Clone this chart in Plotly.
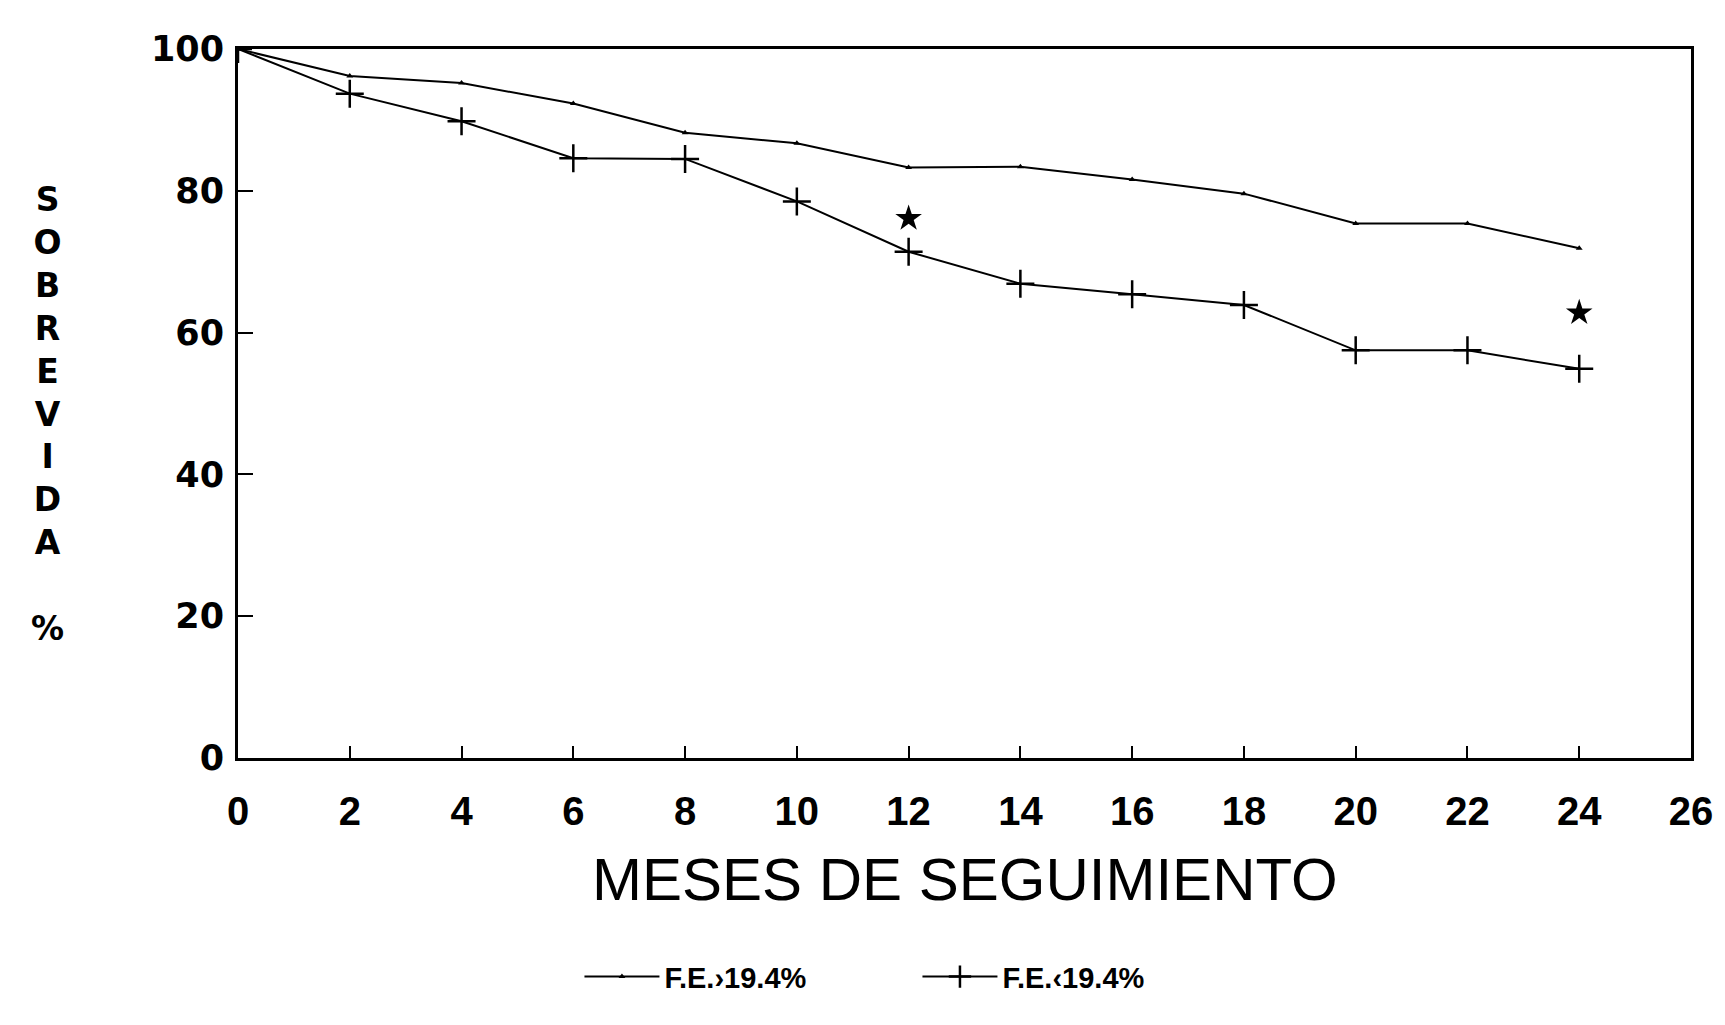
import plotly.graph_objects as go

months = [0, 2, 4, 6, 8, 10, 12, 14, 16, 18, 20, 22, 24]
fe_high = [100, 96.2, 95.2, 92.3, 88.2, 86.7, 83.3, 83.4, 81.6, 79.6, 75.4, 75.4, 71.9]
fe_low = [100, 93.7, 89.8, 84.6, 84.5, 78.5, 71.4, 66.9, 65.4, 63.9, 57.5, 57.5, 54.9]
star_months = [12, 24]
star_values = [76.1, 62.8]

x_ticks = list(range(0, 27, 2))
y_ticks = [0, 20, 40, 60, 80, 100]
name_high = "F.E.›19.4%"
name_low = "F.E.‹19.4%"
y_title_letters = ["S", "O", "B", "R", "E", "V", "I", "D", "A", "", "%"]

fig = go.Figure()
fig.add_trace(go.Scatter(
    x=months, y=fe_high, name=name_high, mode="lines+markers",
    line=dict(color="black", width=2),
    marker=dict(symbol="triangle-up", size=6, color="black"),
))
fig.add_trace(go.Scatter(
    x=months, y=fe_low, name=name_low, mode="lines+markers",
    line=dict(color="black", width=2),
    marker=dict(symbol="cross-thin", size=20, color="black",
                line=dict(color="black", width=2.5)),
))
fig.add_trace(go.Scatter(
    x=star_months, y=star_values, mode="markers", showlegend=False,
    marker=dict(symbol="star", size=20, color="black"),
))

fig.update_layout(
    width=1725, height=1025,
    margin=dict(l=238, r=34, t=49, b=267, autoexpand=False),
    paper_bgcolor="white", plot_bgcolor="white",
    showlegend=True,
    legend=dict(
        orientation="h", xref="paper", yref="paper",
        x=0.235, xanchor="left", y=-0.3085, yanchor="middle",
        itemwidth=75,
        entrywidth=248, entrywidthmode="pixels",
        font=dict(family="Liberation Sans", size=29, color="black", weight="bold"),
        bgcolor="rgba(0,0,0,0)",
    ),
)

fig.update_xaxes(
    range=[0, 26], tickvals=x_ticks, ticktext=[str(v) for v in x_ticks],
    showgrid=False, zeroline=False,
    showline=True, linewidth=3, linecolor="black", mirror=True,
    ticks="inside", ticklen=12, tickwidth=2, tickcolor="black",
    ticklabelstandoff=16,
    tickfont=dict(family="Liberation Sans", size=40, color="black", weight="bold"),
)
fig.update_yaxes(
    range=[0, 100], tickvals=y_ticks, ticktext=[str(v) for v in y_ticks],
    showgrid=False, zeroline=False,
    showline=True, linewidth=3, linecolor="black", mirror=True,
    ticks="inside", ticklen=15, tickwidth=2, tickcolor="black",
    ticklabelstandoff=4,
    tickfont=dict(family="DejaVu Sans", size=35, color="black", weight="bold"),
)

fig.add_annotation(
    text="MESES DE SEGUIMIENTO", xref="paper", yref="paper",
    x=0.5, y=-0.1718, xanchor="center", yanchor="middle", showarrow=False,
    font=dict(family="Liberation Sans", size=60, color="black"),
)
fig.add_annotation(
    text="<br>".join(y_title_letters), xref="paper", yref="paper",
    x=-0.131, y=0.4845, xanchor="center", yanchor="middle", showarrow=False,
    font=dict(family="DejaVu Sans", size=33, color="black", weight="bold"),
)

fig.write_html("out.html")
